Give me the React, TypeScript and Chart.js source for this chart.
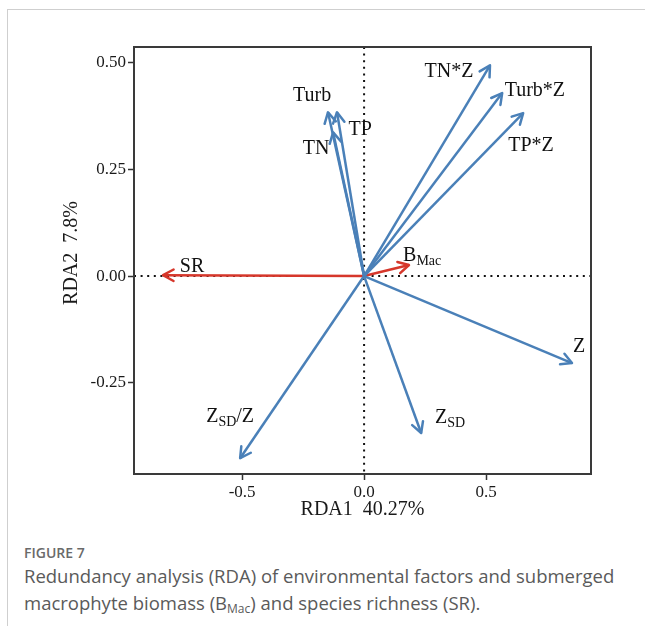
import React, { useEffect, useRef } from "react";
import { Chart, registerables } from "chart.js";

Chart.register(...registerables);

// ---- data ----
const variables = ["TN*Z", "Turb*Z", "TP*Z", "Turb", "TP", "TN", "Z", "Z_{SD}", "Z_{SD}/Z", "SR", "B_{Mac}"];
const groups = ["env", "env", "env", "env", "env", "env", "env", "env", "env", "resp", "resp"];
const rda1 = [0.516, 0.566, 0.652, -0.148, -0.111, -0.127, 0.852, 0.234, -0.508, -0.824, 0.184];
const rda2 = [0.494, 0.429, 0.382, 0.384, 0.384, 0.337, -0.204, -0.368, -0.427, 0.002, 0.026];
const labelX = [0.348, 0.7, 0.684, -0.213, -0.016, -0.197, 0.881, 0.352, -0.549, -0.705, 0.238];
const labelY = [0.48, 0.434, 0.305, 0.422, 0.342, 0.298, -0.166, -0.333, -0.33, 0.021, 0.047];
const xTicks = [-0.5, 0.0, 0.5];
const yTicks = [-0.25, 0.0, 0.25, 0.5];
const xRange = [-0.943, 0.93];
const yRange = [-0.464, 0.537];
const xTitle = "RDA1  40.27%";
const yTitle = "   RDA2  7.8%";

const BLUE = "#4a80b8";
const RED = "#d6372b";
const SERIF = "'Liberation Serif', 'Times New Roman', serif";

function parseRich(s: string) {
  const parts: { t: string; sub: boolean }[] = [];
  const re = /_\{([^}]*)\}/g;
  let last = 0;
  let m: RegExpExecArray | null;
  while ((m = re.exec(s))) {
    if (m.index > last) parts.push({ t: s.slice(last, m.index), sub: false });
    parts.push({ t: m[1], sub: true });
    last = re.lastIndex;
  }
  if (last < s.length) parts.push({ t: s.slice(last), sub: false });
  return parts;
}

const zeroLinesPlugin = {
  id: "zeroLines",
  beforeDatasetsDraw(chart: any) {
    const { ctx, chartArea, scales } = chart;
    const x0 = scales.x.getPixelForValue(0);
    const y0 = scales.y.getPixelForValue(0);
    ctx.save();
    ctx.strokeStyle = "#111";
    ctx.lineWidth = 2;
    ctx.setLineDash([2, 4.6]);
    ctx.beginPath();
    ctx.moveTo(x0, chartArea.top);
    ctx.lineTo(x0, chartArea.bottom);
    ctx.moveTo(chartArea.left, y0);
    ctx.lineTo(chartArea.right, y0);
    ctx.stroke();
    ctx.restore();
  },
};

const arrowPlugin = {
  id: "arrows",
  afterDatasetsDraw(chart: any) {
    const { ctx, scales } = chart;
    chart.data.datasets.forEach((ds: any, i: number) => {
      const meta = chart.getDatasetMeta(i);
      const p0 = meta.data[0];
      const p1 = meta.data[1];
      const ang = Math.atan2(p1.y - p0.y, p1.x - p0.x);
      const len = 12;
      const spread = 0.5;
      ctx.save();
      ctx.strokeStyle = ds.borderColor;
      ctx.lineWidth = 2.5;
      ctx.lineCap = "round";
      ctx.lineJoin = "round";
      ctx.beginPath();
      ctx.moveTo(p1.x - len * Math.cos(ang - spread), p1.y - len * Math.sin(ang - spread));
      ctx.lineTo(p1.x, p1.y);
      ctx.lineTo(p1.x - len * Math.cos(ang + spread), p1.y - len * Math.sin(ang + spread));
      ctx.stroke();
      ctx.restore();
    });
    // labels
    ctx.save();
    ctx.fillStyle = "#111";
    ctx.textBaseline = "middle";
    variables.forEach((v, i) => {
      const cx = scales.x.getPixelForValue(labelX[i]);
      const cy = scales.y.getPixelForValue(labelY[i]);
      const parts = parseRich(v);
      const mainFont = `20px ${SERIF}`;
      const subFont = `14px ${SERIF}`;
      let total = 0;
      parts.forEach((p) => {
        ctx.font = p.sub ? subFont : mainFont;
        total += ctx.measureText(p.t).width;
      });
      let x = cx - total / 2;
      ctx.textAlign = "left";
      parts.forEach((p) => {
        ctx.font = p.sub ? subFont : mainFont;
        ctx.fillText(p.t, x, p.sub ? cy + 5 : cy);
        x += ctx.measureText(p.t).width;
      });
    });
    ctx.restore();
  },
};

const framePlugin = {
  id: "frame",
  afterDraw(chart: any) {
    const { ctx, chartArea } = chart;
    ctx.save();
    ctx.strokeStyle = "#3a3a3a";
    ctx.lineWidth = 2;
    ctx.strokeRect(chartArea.left, chartArea.top, chartArea.right - chartArea.left, chartArea.bottom - chartArea.top);
    ctx.restore();
  },
};

function ChartView() {
  const ref = useRef<HTMLCanvasElement | null>(null);
  useEffect(() => {
    if (!ref.current) return;
    const datasets = variables.map((v, i) => ({
      label: v,
      data: [
        { x: 0, y: 0 },
        { x: rda1[i], y: rda2[i] },
      ],
      showLine: true,
      borderColor: groups[i] === "resp" ? RED : BLUE,
      borderWidth: 2.5,
      pointRadius: 0,
      pointHoverRadius: 0,
      fill: false,
    }));
    const chart = new Chart(ref.current, {
      type: "scatter",
      data: { datasets },
      options: {
        responsive: false,
        animation: false,
        devicePixelRatio: 1,
        layout: { padding: { left: 0, top: 47, right: 54, bottom: 0 } },
        plugins: {
          legend: { display: false },
          tooltip: { enabled: false },
        },
        scales: {
          x: {
            type: "linear",
            min: xRange[0],
            max: xRange[1],
            afterBuildTicks: (s: any) => {
              s.ticks = xTicks.map((v) => ({ value: v }));
            },
            afterFit: (s: any) => {
              s.height = 56;
            },
            border: { display: false },
            grid: { drawOnChartArea: false, drawTicks: true, tickLength: 6, tickColor: "#333", tickWidth: 1.5 },
            ticks: {
              color: "#1a1a1a",
              padding: 2,
              font: { family: SERIF, size: 17 },
              callback: (v: any) => Number(v).toFixed(1),
            },
            title: {
              display: true,
              text: xTitle,
              color: "#1a1a1a",
              font: { family: SERIF, size: 20 },
              padding: { top: 0, bottom: 8 },
            },
          },
          y: {
            type: "linear",
            min: yRange[0],
            max: yRange[1],
            afterBuildTicks: (s: any) => {
              s.ticks = yTicks.map((v) => ({ value: v }));
            },
            afterFit: (s: any) => {
              s.width = 134;
            },
            border: { display: false },
            grid: { drawOnChartArea: false, drawTicks: true, tickLength: 6, tickColor: "#333", tickWidth: 1.5 },
            ticks: {
              color: "#1a1a1a",
              padding: 2,
              font: { family: SERIF, size: 17 },
              callback: (v: any) => Number(v).toFixed(2),
            },
            title: {
              display: true,
              text: yTitle,
              color: "#1a1a1a",
              font: { family: SERIF, size: 20 },
              padding: { top: 60, bottom: 0 },
            },
          },
        },
      },
      plugins: [zeroLinesPlugin, arrowPlugin, framePlugin],
    } as any);
    return () => chart.destroy();
  }, []);
  return <canvas ref={ref} width={645} height={530} style={{ position: "absolute", left: 0, top: 0, width: 645, height: 530 }} />;
}

export default function App() {
  return (
    <div style={{ position: "absolute", left: 0, top: 0, width: 645, height: 630, background: "#fff", overflow: "hidden" }}>
      <div
        style={{
          position: "absolute",
          left: 7,
          top: 9,
          width: 640,
          height: 616,
          borderTop: "1px solid #cfcfcf",
          borderLeft: "1px solid #cfcfcf",
        }}
      />
      <ChartView />
      <div
        style={{
          position: "absolute",
          left: 24,
          top: 544,
          fontFamily: "'Open Sans', sans-serif",
          color: "#5a5a5a",
          whiteSpace: "nowrap",
        }}
      >
        <div style={{ fontSize: 14, lineHeight: "18px", fontWeight: 600, color: "#6a6a6a" }}>FIGURE 7</div>
        <div style={{ fontSize: 18.5, lineHeight: "27px" }}>
          Redundancy analysis (RDA) of environmental factors and submerged
          <br />
          macrophyte biomass (B<sub style={{ fontSize: 12, verticalAlign: "-3px", lineHeight: 0 }}>Mac</sub>) and species richness (SR).
        </div>
      </div>
    </div>
  );
}
